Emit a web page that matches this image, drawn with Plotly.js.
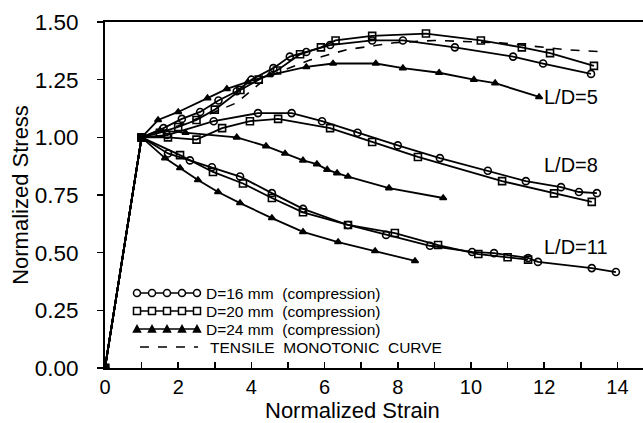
<!DOCTYPE html>
<html><head><meta charset="utf-8">
<script src="https://cdn.plot.ly/plotly-3.0.1.min.js"></script>
<style>html,body{margin:0;padding:0;background:#fff}#c{width:643px;height:423px}</style>
</head><body><div id="c"></div>
<script>
// L/D = 5
const d16_5_x = [0,1,1.6,2.1,2.6,3.1,3.6,4.0,4.6,5.05,5.5,6.15,7.3,8.14,9.56,11.15,11.97,13.28];
const d16_5_y = [0,1,1.04,1.08,1.11,1.16,1.20,1.25,1.30,1.35,1.37,1.40,1.42,1.42,1.39,1.35,1.32,1.275];
const d20_5_x = [0,1,1.5,2.0,2.5,3.0,3.7,4.2,4.7,5.33,5.9,6.3,7.3,8.77,10.27,11.39,12.16,13.36];
const d20_5_y = [0,1,1.02,1.045,1.075,1.12,1.205,1.25,1.29,1.36,1.39,1.42,1.44,1.45,1.42,1.39,1.365,1.31];
const d24_5_x = [0,1,1.45,2.0,2.8,3.33,3.9,4.5,5.5,6.23,7.4,8.14,9.13,10.08,10.66,11.86];
const d24_5_y = [0,1,1.075,1.11,1.17,1.21,1.24,1.27,1.305,1.32,1.32,1.30,1.28,1.25,1.235,1.175];
// L/D = 8
const d16_8_x = [0,1,1.7,2.97,4.18,5.1,5.93,6.9,8.0,9.15,10.46,11.5,12.46,12.95,13.44];
const d16_8_y = [0,1,1.01,1.07,1.105,1.105,1.07,1.02,0.965,0.91,0.855,0.81,0.784,0.763,0.758];
const d20_8_x = [0,1,1.72,2.5,3.2,3.96,4.73,6.15,7.3,8.55,10.85,12.27,13.3];
const d20_8_y = [0,1,1.0,0.99,1.04,1.07,1.08,1.04,0.98,0.915,0.81,0.757,0.72];
const d24_8_x = [0,1,1.5,2.2,3.6,4.4,4.92,5.41,5.79,6.07,6.34,6.64,7.76,9.24];
const d24_8_y = [0,1,1.03,1.02,1.0,0.962,0.93,0.90,0.884,0.86,0.845,0.83,0.78,0.737];
// L/D = 11
const d16_11_x = [0,1,1.72,2.32,2.92,3.69,4.56,5.41,6.64,7.68,8.88,10.03,10.63,11.56,11.83,13.3,13.96];
const d16_11_y = [0,1,0.93,0.90,0.87,0.83,0.758,0.69,0.62,0.577,0.53,0.503,0.498,0.477,0.46,0.433,0.416];
const d20_11_x = [0,1,2.05,2.95,3.77,4.56,5.41,6.64,7.92,9.1,10.2,11.0,11.56];
const d20_11_y = [0,1,0.923,0.85,0.80,0.737,0.675,0.62,0.585,0.533,0.494,0.48,0.47];
const d24_11_x = [0,1,1.64,2.05,2.54,3.09,3.69,4.56,5.41,6.37,7.38,8.47];
const d24_11_y = [0,1,0.91,0.867,0.815,0.763,0.715,0.65,0.59,0.546,0.507,0.464];
// tensile monotonic
const tens_x = [1,2,3,3.6,4.24,4.7,5.6,6.6,7.9,9,10.8,12.6,13.7];
const tens_y = [1,1.05,1.11,1.15,1.235,1.28,1.335,1.38,1.41,1.42,1.41,1.38,1.37];

const names = ["D=16 mm  (compression)","D=20 mm  (compression)","D=24 mm  (compression)","TENSILE  MONOTONIC  CURVE"];
const groupLabels = ["L/D=5","L/D=8","L/D=11"];
const groupLabelX = [11.95,11.95,11.95];
const groupLabelY = [1.175,0.88,0.525];

const W = 643, H = 423, ML = 105, MR = 0, MT = 22, MB = 55;
const PW = W - ML - MR, PH = H - MT - MB;
const px2x = p => (p - ML) / PW;
const py2y = p => (H - MB - p) / PH;

const styles = [
  {symbol:'circle-open', size:7},
  {symbol:'square-open', size:7},
  {symbol:'triangle-up', size:6}
];
const sets = [
  [[d16_5_x,d16_5_y],[d20_5_x,d20_5_y],[d24_5_x,d24_5_y]],
  [[d16_8_x,d16_8_y],[d20_8_x,d20_8_y],[d24_8_x,d24_8_y]],
  [[d16_11_x,d16_11_y],[d20_11_x,d20_11_y],[d24_11_x,d24_11_y]]
];
const traces = [];
sets.forEach((grp,gi)=>{
  grp.forEach((s,si)=>{
    traces.push({x:s[0],y:s[1],type:'scatter',mode:'lines+markers',
      name:names[si],showlegend:false,
      line:{color:'#000',width:1.8},
      marker:{symbol:styles[si].symbol,size:styles[si].size,color:'#000',line:{color:'#000',width:1.6}}});
  });
});
traces.push({x:tens_x,y:tens_y,type:'scatter',mode:'lines',name:names[3],showlegend:false,
  line:{color:'#000',width:1.6,dash:'dash'}});
traces.push({x:[0],y:[0],type:'scatter',mode:'markers',showlegend:false,
  marker:{color:'#000',size:8}});

// hand-drawn legend (layout decoration, like the original plotter legend)
const shapes = [];
const annotations = [];
const rowY = [293, 311, 329, 347];
const symX = [137, 152, 167, 182, 197];
for (let r = 0; r < 4; r++) {
  const yy = py2y(rowY[r]);
  if (r < 3) {
    shapes.push({type:'line',xref:'paper',yref:'paper',x0:px2x(137),x1:px2x(197),y0:yy,y1:yy,
      line:{color:'#000',width:1.5}});
    symX.forEach(sx=>{
      const base = {xref:'paper',yref:'paper',xsizemode:'pixel',ysizemode:'pixel',
        xanchor:px2x(sx),yanchor:yy,line:{color:'#000',width:1.5}};
      if (r === 0) shapes.push(Object.assign({type:'circle',x0:-3.5,x1:3.5,y0:-3.5,y1:3.5,fillcolor:'#fff'},base));
      else if (r === 1) shapes.push(Object.assign({type:'rect',x0:-3.5,x1:3.5,y0:-3.5,y1:3.5,fillcolor:'#fff'},base));
      else shapes.push(Object.assign({type:'path',path:'M-3.5,-3 L3.5,-3 L0,3.5 Z',fillcolor:'#000'},base));
    });
  } else {
    shapes.push({type:'line',xref:'paper',yref:'paper',x0:px2x(140),x1:px2x(198),y0:yy,y1:yy,
      line:{color:'#000',width:1.5,dash:'dash'}});
  }
  annotations.push({xref:'paper',yref:'paper',x:px2x(r<3?205:209),y:yy,text:names[r],showarrow:false,
    xanchor:'left',yanchor:'middle',borderpad:0,font:{size:15.5}});
}
groupLabels.forEach((t,i)=>annotations.push({x:groupLabelX[i],y:groupLabelY[i],xref:'x',yref:'y',
  text:t,showarrow:false,xanchor:'left',yanchor:'middle',font:{size:20}}));
annotations.push({xref:'paper',yref:'paper',x:px2x(352),y:py2y(410),text:'Normalized Strain',
  showarrow:false,xanchor:'center',yanchor:'middle',font:{size:22}});

const layout = {
  width:W,height:H,
  margin:{l:ML,r:MR,t:MT,b:MB},
  paper_bgcolor:'#fff',plot_bgcolor:'rgba(0,0,0,0)',
  font:{family:'Liberation Sans, Arial, sans-serif',color:'#000',size:18},
  showlegend:false,
  xaxis:{range:[0,14.7],showgrid:false,zeroline:false,showline:true,linecolor:'#000',linewidth:2,
    mirror:true,ticks:'inside',ticklen:6,tickwidth:1.5,tickcolor:'#000',dtick:2,tick0:0,
    minor:{dtick:1,ticks:'inside',ticklen:6,tickwidth:1.5,tickcolor:'#000'},
    tickfont:{size:20}},
  yaxis:{range:[0,1.5],showgrid:false,zeroline:false,showline:true,linecolor:'#000',linewidth:2,
    ticks:'outside',ticklen:6,tickwidth:1.5,tickcolor:'#000',dtick:0.25,tickformat:'.2f',
    tickfont:{size:22.5},ticklabelstandoff:14,
    title:{text:'Normalized Stress',font:{size:22},standoff:0}},
  shapes:shapes,
  annotations:annotations
};
Plotly.newPlot('c',traces,layout,{displayModeBar:false,staticPlot:true});
</script></body></html>
